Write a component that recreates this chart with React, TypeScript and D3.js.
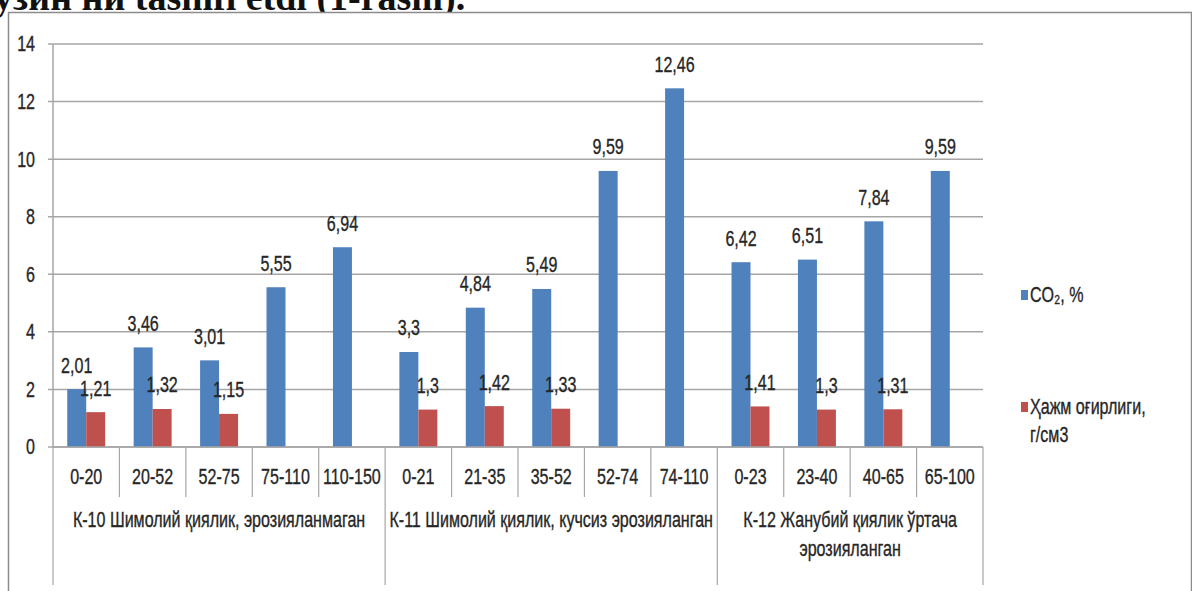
import * as d3 from 'd3';
import React, { useEffect, useRef } from "react";

// soil profile depths (cm), grouped by section
const depthLabels = ["0-20", "20-52", "52-75", "75-110", "110-150", "0-21", "21-35", "35-52", "52-74", "74-110", "0-23", "23-40", "40-65", "65-100"];
const groupOf = [0, 0, 0, 0, 0, 1, 1, 1, 1, 1, 2, 2, 2, 2];
const groupLabels = [
  ["К-10 Шимолий қиялик, эрозияланмаган"],
  ["К-11 Шимолий қиялик, кучсиз эрозияланган"],
  ["К-12 Жанубий қиялик ўртача", "эрозияланган"],
];
const co2 = [2.01, 3.46, 3.01, 5.55, 6.94, 3.3, 4.84, 5.49, 9.59, 12.46, 6.42, 6.51, 7.84, 9.59];
const density = [1.21, 1.32, 1.15, null, null, 1.3, 1.42, 1.33, null, null, 1.41, 1.3, 1.31, null];
const yTicks = [0, 2, 4, 6, 8, 10, 12, 14];
const seriesNames = ["CO₂, %", "Ҳажм оғирлиги,", "г/см3"];

const W = 1192, H = 591;
const FONT = "'Liberation Sans', Arial, sans-serif";
const SX = 0.73;
const blue = "#4f81bd", red = "#c0504d";
const txt = "#262626", grid = "#a6a6a6";

export default function App() {
  const ref = useRef(null);

  useEffect(() => {
    const svg = d3.select(ref.current);
    svg.selectAll('*').remove();

    const x = d3.scaleBand().domain(d3.range(depthLabels.length)).range([53, 983]).padding(0);
    const inner = d3.scaleBand().domain(["co2", "dens"]).range([0, x.bandwidth()]).paddingInner(0).paddingOuter(0.75);
    const y = d3.scaleLinear().domain([0, 14]).range([447, 44]);

    const label = (g, tx, ty, s, anchor = "middle") =>
      g.append("text")
        .attr("transform", `translate(${tx},${ty}) scale(${SX},1)`)
        .attr("text-anchor", anchor)
        .attr("dominant-baseline", "central")
        .attr("font-family", FONT)
        .attr("font-size", 22)
        .attr("fill", txt)
        .attr("stroke", txt)
        .attr("stroke-width", 0.35)
        .text(s);

    // page text cut at top
    svg.append("text")
      .attr("x", -6).attr("y", 10)
      .attr("font-family", "'Liberation Serif', serif")
      .attr("font-weight", "bold")
      .attr("font-size", 38)
      .attr("fill", "#111")
      .text("узин ни tasnifi etdi (1-rasm).");

    // frame
    svg.append("rect")
      .attr("x", 8.5).attr("y", 12.5)
      .attr("width", W - 9).attr("height", H)
      .attr("fill", "#fff").attr("stroke", "#8c8c8c").attr("stroke-width", 1.5);

    // gridlines + y labels
    const gy = svg.append("g");
    yTicks.forEach(t => {
      gy.append("line")
        .attr("x1", 48).attr("x2", 983)
        .attr("y1", y(t)).attr("y2", y(t))
        .attr("stroke", grid).attr("stroke-width", 1.5);
      label(gy, 35, y(t), String(t), "end");
    });
    gy.append("line")
      .attr("x1", 53).attr("x2", 53).attr("y1", y(14)).attr("y2", 447)
      .attr("stroke", grid).attr("stroke-width", 1.5);

    // bars
    const bars = svg.append("g");
    co2.forEach((v, i) => {
      bars.append("rect")
        .attr("x", x(i) + inner("co2")).attr("width", inner.bandwidth())
        .attr("y", y(v)).attr("height", y(0) - y(v))
        .attr("fill", blue);
      label(bars, x(i) + inner("co2") + inner.bandwidth() / 2, y(v) - 24, String(v).replace(".", ","));
    });
    density.forEach((v, i) => {
      if (v == null) return;
      bars.append("rect")
        .attr("x", x(i) + inner("dens")).attr("width", inner.bandwidth())
        .attr("y", y(v)).attr("height", y(0) - y(v))
        .attr("fill", red);
      label(bars, x(i) + inner("dens") + inner.bandwidth() / 2, y(v) - 24, String(v).replace(".", ","));
    });

    // category axis
    const ax = svg.append("g");
    const bounds = d3.range(depthLabels.length + 1);
    bounds.forEach(b => {
      const bx = b < depthLabels.length ? x(b) : x.range()[1];
      const isGroupEdge = b === 0 || b === depthLabels.length || groupOf[b] !== groupOf[b - 1];
      ax.append("line")
        .attr("x1", bx).attr("x2", bx)
        .attr("y1", 447).attr("y2", isGroupEdge ? 585 : 497)
        .attr("stroke", grid).attr("stroke-width", 1.2);
    });
    ax.append("line")
      .attr("x1", 53).attr("x2", 983).attr("y1", 447).attr("y2", 447)
      .attr("stroke", grid).attr("stroke-width", 1.5);
    depthLabels.forEach((d, i) => label(ax, x(i) + x.bandwidth() / 2, 477, d));
    groupLabels.forEach((lines, gi) => {
      const idx = groupOf.map((g, i) => g === gi ? i : -1).filter(i => i >= 0);
      const cx = (x(idx[0]) + x(idx[idx.length - 1]) + x.bandwidth()) / 2;
      lines.forEach((ln, li) => label(ax, cx, 520 + li * 29, ln));
    });

    // legend
    const lg = svg.append("g");
    lg.append("rect").attr("x", 1021).attr("y", 290).attr("width", 7).attr("height", 10).attr("fill", blue);
    label(lg, 1030, 295, seriesNames[0], "start");
    lg.append("rect").attr("x", 1021).attr("y", 402).attr("width", 7).attr("height", 10).attr("fill", red);
    label(lg, 1030, 407, seriesNames[1], "start");
    label(lg, 1030, 435, seriesNames[2], "start");
  }, []);

  return (
    <div style={{ position: "absolute", left: 0, top: 0 }}>
      <svg ref={ref} width={W} height={H} style={{ display: "block", background: "#fff" }} />
    </div>
  );
}
